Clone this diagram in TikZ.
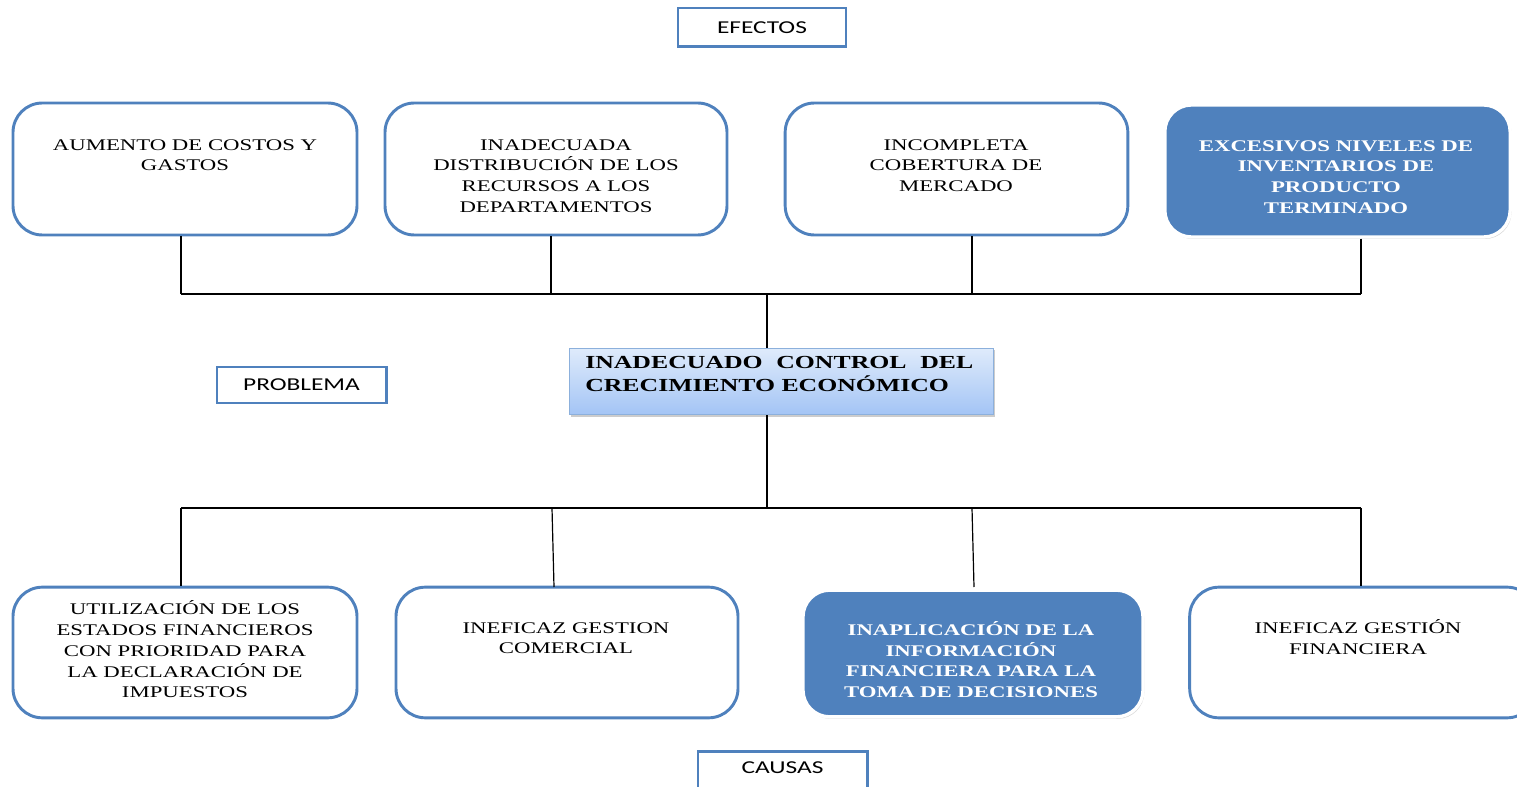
\documentclass[tikz,border=0pt]{standalone}
\usepackage{fontspec}
\setmainfont{Liberation Serif}[FakeStretch=1.4]
\newfontfamily\labelfont{Carlito}[FakeStretch=1.4]
\usetikzlibrary{shadows}
\definecolor{accent}{HTML}{4F81BD}
\definecolor{gradtop}{HTML}{DFEBFB}
\definecolor{gradbot}{HTML}{A3C4F5}
\definecolor{gradedge}{HTML}{8CB0DC}
\tikzset{
  rbox/.style={draw=accent, line width=2.2pt, rounded corners=22pt, fill=white, inner sep=0pt},
  fbox/.style={fill=accent, draw=white, line width=2.5pt, rounded corners=20pt, inner sep=0pt,
    drop shadow={opacity=0.3, shadow xshift=1pt, shadow yshift=-1.5pt}},
  tagbox/.style={draw=accent, line width=2pt, fill=white, inner sep=0pt,
    font=\labelfont\fontsize{13.6}{15}\selectfont},
  mainbox/.style={draw=gradedge, line width=0.6pt, top color=gradtop, bottom color=gradbot,
    inner sep=0pt, drop shadow={opacity=0.4, shadow xshift=1.5pt, shadow yshift=-1.5pt}},
  txt/.style={align=center, anchor=north, inner sep=0pt, font=\fontsize{12.2}{15.6}\selectfont},
  wtxt/.style={txt, text=white, font=\bfseries\fontsize{12.2}{15.6}\selectfont},
  link/.style={line width=0.9pt, black},
}
\begin{document}
\begin{tikzpicture}[x=0.75pt, y=-0.75pt]
\useasboundingbox (0,0) rectangle (1517,787);
\begin{scope}
\clip (0,0) rectangle (1517,787);

% header labels
\node[tagbox, minimum width=126pt, minimum height=29pt] (efectos) at (762,27.5) {EFECTOS};
\node[tagbox, minimum width=127pt, minimum height=27pt] (problema) at (301.5,385) {PROBLEMA};
\node[tagbox, minimum width=127pt, minimum height=31.5pt, anchor=north] (causas) at (782.5,750) {};
\node[font=\labelfont\fontsize{13.6}{15}\selectfont] (causastxt) at (782.5,768) {CAUSAS};

% effects row
\node[rbox, minimum width=258pt, minimum height=99pt] (e1) at (185,169) {};
\node[rbox, minimum width=256.5pt, minimum height=99pt] (e2) at (556,169) {};
\node[rbox, minimum width=257pt, minimum height=99pt] (e3) at (956.5,169) {};
\node[fbox, minimum width=259pt, minimum height=99pt] (e4) at (1337.5,171) {};

\node[txt] (e1t) at (185,139) {AUMENTO DE COSTOS Y\\GASTOS};
\node[txt] (e2t) at (556,139) {INADECUADA\\DISTRIBUCIÓN DE LOS\\RECURSOS A LOS\\DEPARTAMENTOS};
\node[txt] (e3t) at (956,139) {INCOMPLETA\\COBERTURA DE\\MERCADO};
\node[wtxt] (e4t) at (1336,140) {EXCESIVOS NIVELES DE\\INVENTARIOS DE\\PRODUCTO\\TERMINADO};

% central problem
\node[mainbox, minimum width=318pt, minimum height=50pt] (core) at (781,381.5) {};
\node[anchor=north west, inner sep=0pt, align=left,
  font=\bfseries\fontsize{13.8}{17}\selectfont] (coret) at (585,356)
  {\hbox to 291pt{INADECUADO\hfil CONTROL\hfil DEL}\\CRECIMIENTO ECONÓMICO};

% causes row
\node[rbox, minimum width=258pt, minimum height=98pt] (c1) at (185,652.5) {};
\node[rbox, minimum width=256.5pt, minimum height=98pt] (c2) at (567,652.5) {};
\node[fbox, minimum width=255pt, minimum height=95pt] (c3) at (973,653.5) {};
\node[rbox, minimum width=260pt, minimum height=98pt] (c4) at (1363,652.5) {};

\node[txt] (c1t) at (185,600.5) {UTILIZACIÓN DE LOS\\ESTADOS FINANCIEROS\\CON PRIORIDAD PARA\\LA DECLARACIÓN DE\\IMPUESTOS};
\node[txt] (c2t) at (566,622) {INEFICAZ GESTION\\COMERCIAL};
\node[wtxt] (c3t) at (971,621) {INAPLICACIÓN DE LA\\INFORMACIÓN\\FINANCIERA PARA LA\\TOMA DE DECISIONES};
\node[txt] (c4t) at (1358,619.5) {INEFICAZ GESTIÓN\\FINANCIERA};

% junction points
\coordinate (ta) at (181,294);
\coordinate (tb) at (551,294);
\coordinate (tc) at (972,294);
\coordinate (td) at (1361,294);
\coordinate (thub) at (767,294);
\coordinate (ba) at (181,508);
\coordinate (bb) at (552,508);
\coordinate (bc) at (972,508);
\coordinate (bd) at (1361,508);
\coordinate (bhub) at (767,508);
\coordinate (bbend) at (554,587);
\coordinate (bcend) at (974,587);

% effect tree
\draw[link] (e1.south -| ta) -- (ta);
\draw[link] (e2.south -| tb) -- (tb);
\draw[link] (e3.south -| tc) -- (tc);
\draw[link] (e4.south -| td) -- (td);
\draw[link] (ta) -- (td);
\draw[link] (thub) -- (core.north -| thub);

% cause tree
\draw[link] (core.south -| bhub) -- (bhub);
\draw[link] (ba) -- (bd);
\draw[link] (ba) -- (c1.north -| ba);
\draw[link] (bb) -- (bbend);
\draw[link] (bc) -- (bcend);
\draw[link] (bd) -- (c4.north -| bd);
\end{scope}
\end{tikzpicture}
\end{document}
